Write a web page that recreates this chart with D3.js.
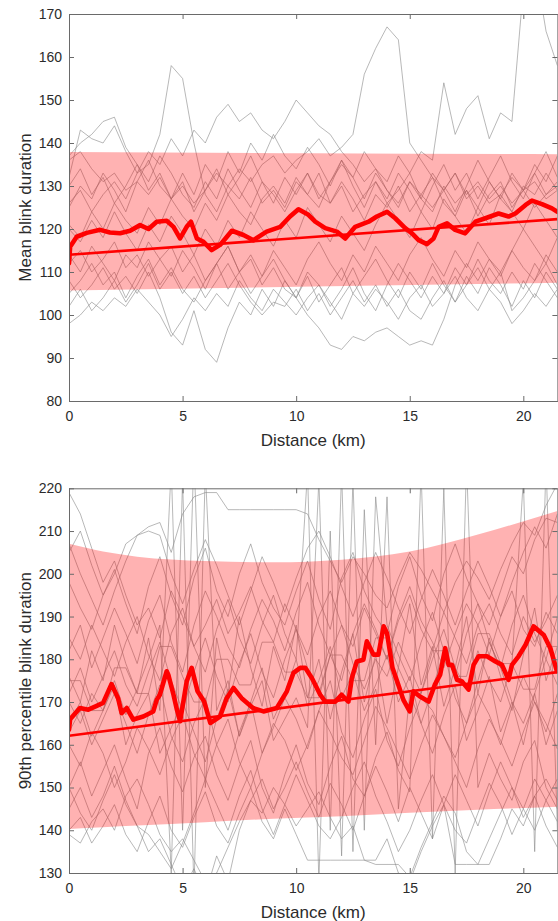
<!DOCTYPE html>
<html>
<head>
<meta charset="utf-8">
<script src="https://cdn.jsdelivr.net/npm/d3@7/dist/d3.min.js"></script>
<style>
  body { margin: 0; background: #fff; }
  svg { display: block; }
  text { font-family: Arial, "Liberation Sans", Helvetica, sans-serif; fill: #2b2b2b; }
</style>
</head>
<body>
<svg id="chart" width="558" height="921"></svg>
<script>
// ---- shared sampling grid for the per-participant traces (km) ----
const gridKm = [0,0.5,1,1.5,2,2.5,3,3.5,4,4.5,5,5.5,6,6.5,7,7.5,8,8.5,9,9.5,10,10.5,
                11,11.5,12,12.5,13,13.5,14,14.5,15,15.5,16,16.5,17,17.5,18,18.5,19,19.5,20,20.5,21,21.5];

const xTicks = [0, 5, 10, 15, 20];
const meanTicks = [80, 90, 100, 110, 120, 130, 140, 150, 160, 170];
const p90Ticks = [130, 140, 150, 160, 170, 180, 190, 200, 210, 220];

// ---- mean blink duration: individual participants ----
const meanP01 = [136,138,134,131,133,129,131,128,132,127,130,126,129,133,130,134,131,135,137,133,136,138,141,137,139,142,156,162,167,164,140,136,132,129,133,128,131,127,130,126,129,131,127,129];
const meanP02 = [132,143,141,140,144,138,133,135,142,158,155,140,128,124,130,127,132,126,129,125,131,128,133,126,130,124,128,131,126,129,133,127,124,130,126,129,123,128,131,125,129,133,128,131];
const meanP03 = [137,140,142,145,146,139,135,131,137,133,128,125,131,127,134,129,125,131,128,124,129,133,128,126,131,127,122,128,125,130,124,128,132,126,123,129,125,131,127,124,130,128,133,129];
const meanP04 = [126,129,124,128,131,127,133,138,135,141,137,143,140,146,149,145,147,143,141,145,150,147,144,142,138,135,131,134,129,126,131,128,125,129,133,127,130,126,128,132,129,125,128,130];
const meanP05 = [121,118,124,120,126,122,119,125,121,127,123,120,126,122,128,124,121,127,130,126,132,128,125,131,135,132,138,134,131,137,133,138,136,154,142,148,151,141,147,145,176,182,166,158];
const meanP06 = [108,104,107,111,106,109,105,110,104,96,93,101,92,89,97,103,100,106,102,108,104,109,103,107,111,105,109,113,108,104,110,106,112,107,103,109,105,111,107,102,108,104,110,106];
const meanP07 = [112,115,110,113,117,111,114,109,113,116,110,114,108,112,116,110,113,107,111,106,104,100,97,93,92,95,94,96,97,95,93,94,93,99,107,112,108,113,110,115,111,108,114,110];
const meanP08 = [98,100,103,101,104,102,106,103,100,95,99,104,101,105,102,108,104,101,106,103,100,104,107,103,99,105,102,106,103,99,104,107,102,105,109,104,101,106,103,98,101,105,102,106];
const meanP09 = [120,117,122,118,124,119,115,121,117,123,119,114,120,116,122,118,124,120,116,122,118,125,121,117,123,119,115,121,126,122,118,124,120,127,123,119,125,121,128,124,120,126,122,118];
const meanP10 = [114,110,116,112,108,114,111,117,113,109,115,111,106,112,116,110,114,109,115,111,107,113,117,112,108,114,110,116,112,108,114,118,113,109,115,111,117,113,109,115,120,116,112,118];
const meanP11 = [130,134,128,132,126,130,135,129,133,127,131,124,129,134,128,132,137,131,126,132,128,133,127,131,136,130,125,131,127,133,129,124,130,135,129,133,127,132,137,131,127,133,138,132];
const meanP12 = [105,108,112,107,110,104,109,113,107,111,106,103,108,112,106,110,105,109,113,108,104,110,107,102,106,111,105,101,107,112,108,104,109,105,111,107,113,108,105,110,106,112,108,104];
const meanP13 = [125,130,127,133,129,124,131,136,130,127,133,128,135,131,138,133,140,136,142,137,134,139,135,130,136,132,127,133,129,125,131,127,133,129,124,130,136,131,127,133,129,135,131,137];
const meanP14 = [102,106,101,104,108,103,107,112,106,110,105,109,104,108,112,107,103,100,103,102,106,101,105,100,104,108,103,107,102,106,101,99,104,108,103,107,111,106,110,101,104,108,112,107];

// group mean (moving average) of mean blink duration
const meanAvgKm  = [0,0.05,0.34,0.78,1.37,1.8,2.25,2.69,3.13,3.5,3.86,4.3,4.6,4.89,5.18,5.37,5.63,5.92,6.28,6.65,7.17,7.68,8.12,8.7,9.3,9.73,10.1,10.54,10.84,11.28,11.79,12.16,12.6,13.19,13.55,14.0,14.36,14.8,15.1,15.39,15.76,16.05,16.27,16.64,17.0,17.44,17.89,18.33,18.91,19.35,19.65,20.1,20.38,20.82,21.26,21.5];
const meanAvgVal = [112,115.9,118.2,119.1,119.8,119.2,119.0,119.6,120.9,120.0,121.7,121.9,120.5,117.8,120.5,121.7,117.8,117.0,115.1,116.3,119.6,118.6,117.4,119.4,120.5,122.9,124.6,123.3,121.7,120.2,119.4,117.8,120.5,121.7,122.9,124.0,122.5,120.2,119.0,117.4,116.5,117.8,120.5,121.3,119.8,119.0,121.7,122.5,123.6,122.9,123.6,125.6,126.6,125.8,124.8,124.0];

// linear trend and band for mean blink duration
const meanFitKm = [0, 21.5];
const meanFitVal = [114.0, 122.3];
const meanBandKm = [0, 10.75, 21.5];
const meanBandHi = [137.9, 137.6, 137.4];
const meanBandLo = [105.7, 106.6, 107.5];

// ---- 90th percentile blink duration: individual participants ----
const p90P01 = [219,214,206,198,203,195,188,192,185,196,190,183,188,194,186,191,197,189,184,193,187,181,190,196,188,183,192,186,180,189,195,187,182,191,185,179,188,193,186,181,190,184,189,195];
const p90P02 = [205,210,202,195,200,207,209,211,212,205,214,218,219,219,215,215,215,215,215,215,215,214,208,203,198,204,200,195,192,199,205,201,196,191,198,203,199,194,201,207,212,209,216,221];
const p90P03 = [176,170,182,175,188,179,172,185,168,225,140,228,150,185,172,190,178,169,183,175,188,171,180,166,177,186,170,181,165,178,193,174,183,169,178,190,172,185,176,168,181,192,175,183];
const p90P04 = [139,137,142,145,140,148,152,146,139,135,138,133,128,130,136,142,147,144,150,146,141,145,149,143,138,141,133,132,132,132,129,136,142,148,144,135,132,132,138,145,141,148,152,147];
const p90P05 = [160,155,163,158,150,156,164,159,153,161,167,158,152,160,166,156,150,158,165,161,154,160,168,163,157,153,161,169,164,158,152,160,167,162,156,150,159,166,161,155,163,170,165,159];
const p90P06 = [182,188,178,185,192,186,179,189,195,184,177,188,196,190,183,178,187,194,189,182,191,198,188,181,175,186,193,187,180,190,197,189,184,178,186,193,188,181,190,196,187,183,191,186];
const p90P07 = [165,170,162,168,174,160,167,172,158,164,170,163,156,166,173,162,169,175,161,166,171,164,222,140,224,135,215,160,218,145,172,165,158,167,174,161,168,176,163,170,165,172,160,168];
const p90P08 = [150,156,148,154,160,152,145,158,164,155,149,157,162,153,147,155,161,150,144,153,160,151,146,155,162,152,148,157,163,154,149,224,138,220,130,226,150,158,152,147,156,161,150,145];
const p90P09 = [198,192,187,195,201,193,186,197,204,195,188,199,206,196,190,200,207,198,192,188,196,203,194,187,199,205,196,190,186,197,204,195,189,200,207,199,193,188,196,204,200,208,213,212];
const p90P10 = [145,150,143,148,155,147,141,139,135,131,137,144,152,146,140,148,154,145,139,146,153,147,141,138,143,150,156,148,142,135,140,147,153,146,140,137,144,151,146,139,145,152,147,142];
const p90P11 = [170,165,172,168,175,167,173,180,188,130,222,126,224,168,175,162,170,178,166,172,180,169,175,183,171,177,168,174,181,170,176,165,173,182,171,165,175,184,178,170,160,172,180,174];
const p90P12 = [172,178,170,176,182,174,169,177,184,175,168,177,185,176,170,179,186,177,171,180,187,178,172,181,188,179,173,180,176,184,178,172,180,187,178,173,182,175,170,179,222,135,226,140];
const p90P13 = [175,175,168,168,178,178,172,172,183,183,176,170,170,180,180,174,174,184,184,177,177,171,171,181,181,175,175,185,185,178,172,172,182,182,176,176,186,186,179,179,173,173,183,183];
const p90P14 = [150,144,140,147,153,146,141,135,138,132,126,131,125,134,128,140,147,152,145,150,156,149,143,151,146,140,148,155,149,142,150,144,138,146,153,147,141,149,156,150,143,148,141,136];
const p90P15 = [207,200,194,188,196,203,209,210,209,200,193,201,208,202,195,188,196,204,198,191,199,206,210,204,197,190,198,205,199,192,186,194,201,195,188,196,203,197,190,198,205,211,206,214];
const p90P16 = [163,168,160,166,172,165,158,167,174,162,156,165,171,160,154,163,170,158,164,171,166,159,168,175,163,157,166,173,161,155,164,171,168,162,157,165,172,167,160,169,176,170,163,172];
const p90P17 = [185,180,188,182,176,184,190,181,175,186,192,183,177,187,194,185,179,188,195,186,180,224,128,210,134,222,140,218,188,181,175,184,191,182,176,186,193,184,178,188,195,186,180,190];
const p90P18 = [140,143,137,141,146,139,135,142,148,140,136,143,149,141,137,144,150,142,138,145,139,133,133,133,133,133,133,133,138,130,128,135,141,146,132,132,132,138,144,150,145,140,147,152];

// group mean (moving average) of 90th percentile blink duration
const p90AvgKm  = [0,0.05,0.48,0.85,1.22,1.5,1.87,2.16,2.32,2.54,2.83,3.27,3.71,3.86,4.0,4.3,4.37,4.6,4.75,4.89,5.18,5.4,5.66,5.95,6.22,6.65,6.94,7.24,7.6,8.1,8.56,9.15,9.59,9.88,10.18,10.4,10.69,11.06,11.28,11.72,12.0,12.3,12.45,12.67,12.96,13.11,13.4,13.62,13.85,14.0,14.24,14.5,14.72,15.0,15.16,15.45,15.83,16.1,16.34,16.56,16.71,16.86,17.08,17.3,17.59,17.81,18.03,18.4,18.77,19.06,19.35,19.5,19.79,20.1,20.45,20.9,21.19,21.48];
const p90AvgVal = [163.5,166.0,168.6,168.2,169.1,169.8,174.2,170.9,167.4,168.6,165.9,166.6,167.8,170.5,171.7,177.2,176.4,171.7,168.2,165.5,174.8,178.0,172.5,170.1,165.1,166.6,170.9,173.3,170.9,168.6,167.8,168.6,172.5,176.8,178.0,178.0,175.6,171.7,170.1,170.1,171.7,170.1,175.6,179.5,179.9,184.2,181.1,181.1,187.7,186.1,178.0,174.0,170.5,167.8,172.5,171.3,170.1,174.0,176.4,182.6,178.7,178.7,175.2,174.8,172.9,178.7,180.7,180.7,179.5,178.7,175.2,178.7,180.7,183.4,187.7,185.7,182.6,177.2];

// linear trend and band for 90th percentile blink duration
const p90FitKm = [0, 21.5];
const p90FitVal = [162.1, 177.0];
const p90BandKm = [0, 1.5, 3, 6, 9, 12, 15, 18, 21.5];
const p90BandHi = [207.0, 205.2, 204.0, 203.0, 202.7, 203.3, 205.2, 209.2, 214.7];
const p90BandLo = [140.3, 140.7, 141.1, 141.9, 142.7, 143.3, 144.1, 144.8, 145.5];

const svg = d3.select("#chart");
const xDomain = [0, 21.5];

function drawPanel(cfg) {
  const { id, top, bottom, left, right, yDomain, yTicks, yLabel,
          traces, bandKm, bandHi, bandLo, fitKm, fitVal, avgKm, avgVal } = cfg;

  const x = d3.scaleLinear().domain(xDomain).range([left, right]);
  const y = d3.scaleLinear().domain(yDomain).range([bottom, top]);
  const g = svg.append("g");

  g.append("clipPath").attr("id", "clip-" + id)
    .append("rect").attr("x", left).attr("y", top)
    .attr("width", right - left).attr("height", bottom - top);

  const plot = g.append("g").attr("clip-path", `url(#clip-${id})`);

  // per-participant traces
  const trace = d3.line().x((d, i) => x(gridKm[i])).y(d => y(d));
  plot.selectAll("path.trace").data(traces).join("path")
    .attr("class", "trace")
    .attr("d", trace)
    .attr("fill", "none")
    .attr("stroke", "#8a8a8a")
    .attr("stroke-width", 0.85)
    .attr("stroke-opacity", 0.72)
    .attr("stroke-linejoin", "round");

  // shaded band
  const band = d3.area()
    .x((d, i) => x(bandKm[i]))
    .y0((d, i) => y(bandLo[i]))
    .y1(d => y(d))
    .curve(d3.curveMonotoneX);
  plot.append("path")
    .attr("d", band(bandHi))
    .attr("fill", "#ff0000")
    .attr("fill-opacity", 0.3);

  // linear trend
  const fitLine = d3.line().x((d, i) => x(fitKm[i])).y(d => y(d));
  plot.append("path")
    .attr("d", fitLine(fitVal))
    .attr("fill", "none")
    .attr("stroke", "#ff0000")
    .attr("stroke-width", 2.6);

  // group moving average
  const avgLine = d3.line().x((d, i) => x(avgKm[i])).y(d => y(d));
  plot.append("path")
    .attr("d", avgLine(avgVal))
    .attr("fill", "none")
    .attr("stroke", "#ff0000")
    .attr("stroke-width", 4.6)
    .attr("stroke-linejoin", "round")
    .attr("stroke-linecap", "round");

  // axes: ticks point inward on all four sides
  const axisColor = "#6a6a6a";
  const styleAxis = sel => {
    sel.select(".domain").attr("stroke", axisColor).attr("stroke-width", 1);
    sel.selectAll(".tick line").attr("stroke", axisColor).attr("stroke-width", 1);
    sel.selectAll(".tick text").attr("font-size", "14px").attr("fill", "#2b2b2b")
      .attr("font-family", 'Arial, "Liberation Sans", sans-serif');
  };

  g.append("g").attr("transform", `translate(0,${bottom})`)
    .call(d3.axisBottom(x).tickValues(xTicks).tickFormat(d3.format("d"))
      .tickSizeInner(-5).tickSizeOuter(0).tickPadding(10))
    .call(styleAxis);
  g.append("g").attr("transform", `translate(0,${top})`)
    .call(d3.axisTop(x).tickValues(xTicks).tickFormat("")
      .tickSizeInner(-5).tickSizeOuter(0))
    .call(styleAxis);
  g.append("g").attr("transform", `translate(${left},0)`)
    .call(d3.axisLeft(y).tickValues(yTicks).tickFormat(d3.format("d"))
      .tickSizeInner(-5).tickSizeOuter(0).tickPadding(7))
    .call(styleAxis);
  g.append("g").attr("transform", `translate(${right},0)`)
    .call(d3.axisRight(y).tickValues(yTicks).tickFormat("")
      .tickSizeInner(-5).tickSizeOuter(0))
    .call(styleAxis);

  // axis titles
  g.append("text")
    .attr("x", (left + right) / 2).attr("y", bottom + 45)
    .attr("text-anchor", "middle").attr("font-size", "17px")
    .text("Distance (km)");
  g.append("text")
    .attr("transform", `translate(31,${(top + bottom) / 2}) rotate(-90)`)
    .attr("text-anchor", "middle").attr("font-size", "17px")
    .text(yLabel);
}

drawPanel({
  id: "mean", top: 14, bottom: 401, left: 69, right: 557.4,
  yDomain: [80, 170], yTicks: meanTicks, yLabel: "Mean blink duration",
  traces: [meanP01, meanP02, meanP03, meanP04, meanP05, meanP06, meanP07,
           meanP08, meanP09, meanP10, meanP11, meanP12, meanP13, meanP14],
  bandKm: meanBandKm, bandHi: meanBandHi, bandLo: meanBandLo,
  fitKm: meanFitKm, fitVal: meanFitVal, avgKm: meanAvgKm, avgVal: meanAvgVal
});

drawPanel({
  id: "p90", top: 488.3, bottom: 873, left: 69, right: 557.4,
  yDomain: [130, 220], yTicks: p90Ticks, yLabel: "90th percentile blink duration",
  traces: [p90P01, p90P02, p90P03, p90P04, p90P05, p90P06, p90P07, p90P08, p90P09,
           p90P10, p90P11, p90P12, p90P13, p90P14, p90P15, p90P16, p90P17, p90P18],
  bandKm: p90BandKm, bandHi: p90BandHi, bandLo: p90BandLo,
  fitKm: p90FitKm, fitVal: p90FitVal, avgKm: p90AvgKm, avgVal: p90AvgVal
});
</script>
</body>
</html>
